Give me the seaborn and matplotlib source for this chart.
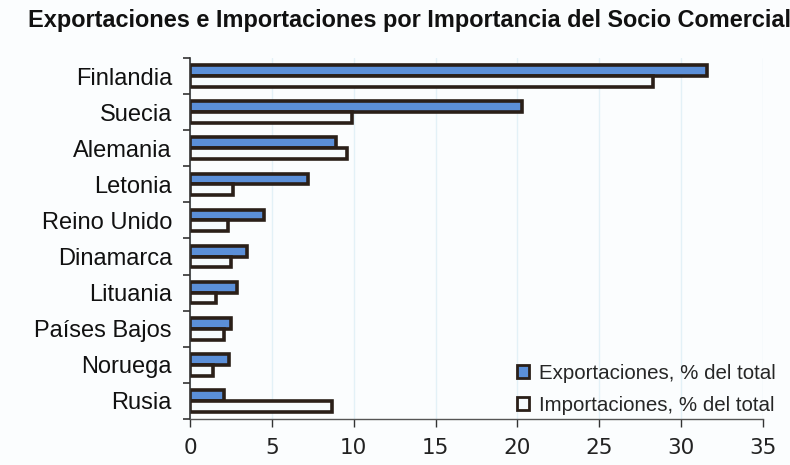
import pandas as pd
import seaborn as sns
import matplotlib.pyplot as plt
from matplotlib.patches import Patch
from matplotlib.ticker import FixedLocator

# Values (% of total)
paises = ['Finlandia', 'Suecia', 'Alemania', 'Letonia', 'Reino Unido',
          'Dinamarca', 'Lituania', 'Países Bajos', 'Noruega', 'Rusia']
exportaciones = [31.6, 20.3, 8.9, 7.2, 4.5, 3.5, 2.9, 2.5, 2.4, 2.1]
importaciones = [28.3, 9.9, 9.6, 2.6, 2.3, 2.5, 1.6, 2.1, 1.4, 8.7]
series = ['Exportaciones, % del total', 'Importaciones, % del total']
xticks = [0, 5, 10, 15, 20, 25, 30, 35]

df = pd.DataFrame({
    'pais': paises * 2,
    'valor': exportaciones + importaciones,
    'serie': [series[0]] * len(paises) + [series[1]] * len(paises),
})

azul = '#5b8fd8'
blanco = '#f6fbfd'
borde = '#2a1f18'

sns.set_style('white')
plt.rcParams['font.family'] = ['Liberation Sans', 'DejaVu Sans']

fig = plt.figure(figsize=(7.9, 4.65), dpi=100)
fig.patch.set_facecolor('#fbfdfe')
ax = fig.add_axes([0.2405, 0.0989, 0.7253, 0.7764])
ax.set_facecolor('#fbfdfe')

sns.barplot(data=df, y='pais', x='valor', hue='serie', orient='h',
            order=paises, hue_order=series, palette=[azul, blanco],
            width=0.6, edgecolor=borde, linewidth=2.6, saturation=1,
            legend=False, ax=ax)

ax.set_xlim(0, 35)
ax.set_ylim(len(paises) - 0.5, -0.5)
ax.set_xticks(xticks)
ax.set_xticklabels([str(t) for t in xticks], fontsize=15.5, family='DejaVu Sans', color='#222222')
ax.xaxis.grid(True, color='#e3f1f7', linewidth=1)
ax.set_axisbelow(True)
ax.set_xlabel('')
ax.set_ylabel('')

ax.tick_params(axis='y', which='major', length=0, pad=13, labelsize=17, labelcolor='#111111')
ax.yaxis.set_minor_locator(FixedLocator([i - 0.5 for i in range(len(paises) + 1)]))
ax.tick_params(axis='y', which='minor', length=5, width=1.2, color='#333333', left=True)
ax.tick_params(axis='x', length=6, width=1, color='#333333', pad=8, bottom=True)

sns.despine(ax=ax, top=True, right=True)
ax.spines['left'].set_color('#333333')
ax.spines['left'].set_linewidth(1.2)
ax.spines['bottom'].set_color('#555555')
ax.spines['bottom'].set_linewidth(1)

handles = [Patch(facecolor=azul, edgecolor=borde, linewidth=2),
           Patch(facecolor=blanco, edgecolor=borde, linewidth=2)]
ax.legend(handles, series, loc='lower right', bbox_to_anchor=(1.055, -0.04),
          frameon=False, fontsize=14.8, handlelength=0.6, handleheight=0.6,
          handletextpad=0.5, labelspacing=0.65)

fig.text(0.035, 0.955, 'Exportaciones e Importaciones por Importancia del Socio Comercial',
         fontsize=16.9, fontweight='bold', ha='left', va='center', color='#111111')

fig.savefig('out.png', dpi=100, facecolor=fig.get_facecolor())
